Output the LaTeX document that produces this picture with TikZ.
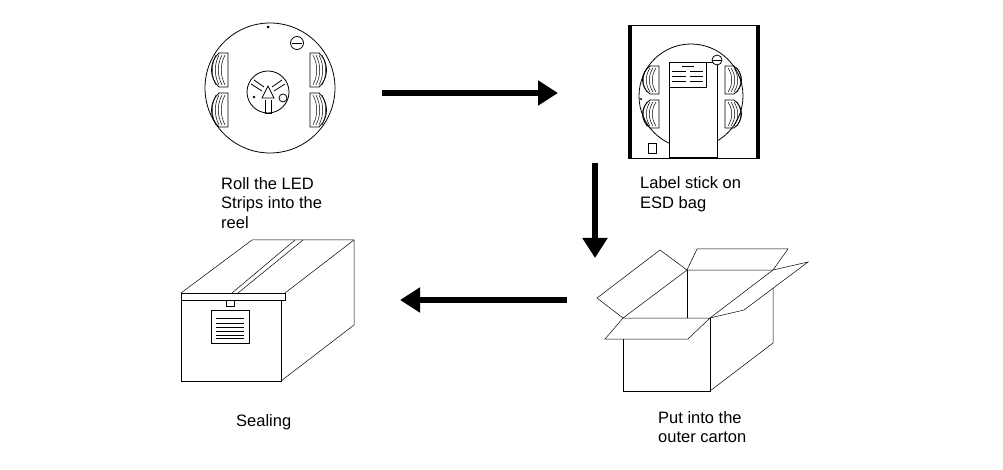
\documentclass[tikz,border=0pt]{standalone}
\usepackage{fontspec}
\setmainfont{Liberation Sans}
\usetikzlibrary{arrows.meta}
\begin{document}
\begin{tikzpicture}[x=1pt,y=-1pt]
\tikzset{
  line/.style={draw, line width=0.8pt},
  thin line/.style={draw, line width=0.5pt},
  flow/.style={line width=6pt, -{Triangle[length=20pt,width=24pt]}},
  caption/.style={anchor=west, align=left, font=\fontsize{16.5}{19.5}\selectfont, inner sep=0pt},
}
\useasboundingbox (0,0) rectangle (1003,470);

% reel slots: centre x, centre y, x offset, y offset, half height
\newcommand{\slots}[5]{%
  \foreach \s in {-1,1} {
    \foreach \t in {-1,1} {
      \begin{scope}[shift={(#1+\s*#3,#2+\t*#4)}, xscale=\s]
        \draw[line] (-9,-#5) -- (-9,#5) -- (0,#5) .. controls (10,#5*0.5) and (10,-#5*0.5) .. (0,-#5) -- cycle;
        \foreach \k in {-6,-3,0,3} \draw[thin line] (\k,-#5+2) .. controls (\k+5,-#5*0.3) and (\k+5,#5*0.3) .. (\k,#5-2);
      \end{scope}
    }
  }}
\draw[line] (270,88) circle (65);
\fill (268,27) circle (1.5);
\slots{269}{90}{50}{20}{17}
\draw[line] (268,92) circle (21);
\draw[line] (251,84) -- (262,91);
\draw[line] (254,80) -- (264,87);
\draw[line] (285,84) -- (274,91);
\draw[line] (282,80) -- (272,87);
\draw[line] (265,100) -- (265,113) -- (271,113) -- (271,100);
\draw[line] (268,86) -- (262,98) -- (274,98) -- cycle;
\draw[line] (283,98) circle (4);
\fill (254,97) circle (1.3);
\draw[line] (297,43) circle (6.5);
\draw[line] (292,43) -- (302,43);

% ESD bag
\draw[line] (628,25) rectangle (759,158);
\fill (628,25) rectangle (632,158);
\fill (756,25) rectangle (759,158);
\draw[line] (691,96) circle (52);
\fill (641,99) circle (1.2);
\slots{692}{97}{42}{17}{14}
\draw[line, fill=white] (669,62) rectangle (717,157);
\draw[line] (669,62) rectangle (706,87);
\draw[thin line] (682,66) -- (694,66);
\foreach \y in {71,76,81} {
  \draw[thin line] (672,\y) -- (686,\y);
  \draw[thin line] (690,\y) -- (703,\y);
}
\draw[line, fill=white] (717,60) circle (5);
\draw[line] (713,60) -- (721,60);
\draw[line] (648,143) rectangle (656,153);

% arrows
\coordinate (r1) at (382,93);
\coordinate (b1) at (558,93);
\coordinate (b2) at (595,163);
\coordinate (c1) at (595,258);
\coordinate (c2) at (567,300);
\coordinate (s1) at (400,300);
\draw[flow] (r1) -- (b1);
\draw[flow] (b2) -- (c1);
\draw[flow] (c2) -- (s1);

% sealed carton
\draw[thin line] (181,300) rectangle (281,381);
\draw[thin line] (281,381) -- (354,325) -- (354,240);
\draw[thin line] (181,293) -- (252,240) -- (354,240);
\draw[thin line] (181,293) rectangle (285,300);
\draw[thin line] (285,293) -- (354,240);
\draw[thin line] (232,293) -- (295,240);
\draw[thin line] (238,293) -- (303,240);
\draw[thin line] (226,300) rectangle (234,306);
\draw[thin line] (211,310) rectangle (249,343);
\foreach \y in {318,323,327,331,335,338} \draw[thin line] (216,\y) -- (244,\y);

% open carton
\draw[thin line] (623,318) rectangle (710,391);
\draw[thin line] (710,391) -- (773,343) -- (773,288);
\draw[thin line] (710,318) -- (773,270);
\draw[thin line] (623,318) -- (687,270) -- (773,270);
\draw[thin line] (687,270) -- (687,318);
\draw[thin line, fill=white] (623,318) -- (605,339) -- (688,339) -- (710,318) -- cycle;
\draw[thin line] (623,318) -- (597,298) -- (660,250) -- (687,270);
\draw[thin line] (687,270) -- (697,249) -- (788,249) -- (773,270);
\draw[thin line] (773,270) -- (808,262) -- (744,310) -- (710,318);

% captions
\node[caption] (t1) at (221,203) {Roll the LED\\Strips into the\\reel};
\node[caption] (t2) at (640,194) {Label stick on\\ESD bag};
\node[caption] (t3) at (236,422) {Sealing};
\node[caption] (t4) at (658,427) {Put into the\\outer carton};
\end{tikzpicture}
\end{document}
